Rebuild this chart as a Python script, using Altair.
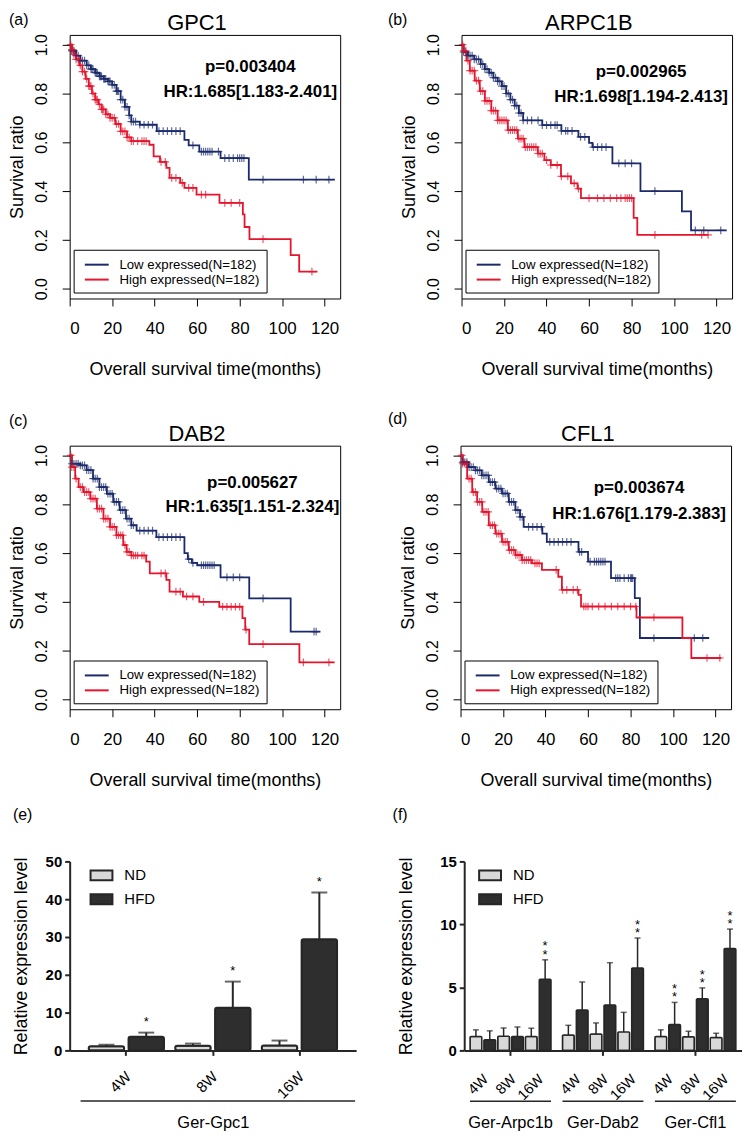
import altair as alt
import pandas as pd

FONT = "Liberation Sans"
NAVY = "#1b2a6b"
RED = "#e5152d"
DARK = "#262626"
ND_FILL = "#d9d9d9"
HFD_FILL = "#2e2e2e"
LOW = "Low expressed(N=182)"
HIGH = "High expressed(N=182)"

km_x_ticks = [0, 20, 40, 60, 80, 100, 120]
km_y_ticks = [0.0, 0.2, 0.4, 0.6, 0.8, 1.0]

# ---------------- (a) GPC1 ----------------
a_low_t = [0, 1, 3, 5, 8, 10, 12, 14, 16, 18, 20, 22, 24, 26, 28, 29, 33, 41, 54, 56, 61, 71, 84.3]
a_low_s = [1.0, 0.975, 0.955, 0.935, 0.915, 0.90, 0.885, 0.87, 0.86, 0.85, 0.835, 0.81, 0.775, 0.745,
           0.71, 0.685, 0.672, 0.646, 0.61, 0.587, 0.562, 0.535, 0.447]
a_low_end = 124.8
a_low_cens = [1, 2, 3, 4, 5, 6, 7, 8, 9, 10, 10.5, 11, 12, 12.5, 13, 14, 14.5, 15, 16, 16.5, 17, 18,
              18.5, 19, 20, 21, 22, 22.5, 23, 24, 25, 26, 27, 28, 29, 30, 31, 33, 35, 37, 39, 42, 44,
              46, 48, 50, 52, 58, 62, 63, 64, 65, 66, 67, 70, 73, 75, 77, 79, 80, 81, 82, 91, 110, 116, 122]
a_high_t = [0, 1, 2, 3, 4.5, 6, 7.5, 9, 10.5, 12, 13.5, 15, 17, 19, 21.5, 24, 27, 29, 37.5, 39.5, 42.5,
            45.5, 47, 52, 54, 59.7, 70.5, 81.5, 82.3, 84.6, 104, 108]
a_high_s = [1.0, 0.98, 0.96, 0.94, 0.915, 0.89, 0.86, 0.83, 0.80, 0.775, 0.755, 0.735, 0.715, 0.70, 0.675,
            0.645, 0.62, 0.605, 0.59, 0.542, 0.52, 0.495, 0.454, 0.434, 0.413, 0.386, 0.352, 0.305,
            0.253, 0.203, 0.138, 0.07]
a_high_end = 116.6
a_high_cens = [0.5, 1, 1.5, 2, 3, 4, 5, 6, 7, 8, 9, 9.5, 10, 11, 12, 12.5, 13, 14, 15, 15.5, 16, 17, 18,
               19, 20, 21, 22, 23, 24, 25, 26, 27, 28, 29, 30, 32, 34, 35, 36, 43, 45, 48, 50, 53, 56,
               58, 62, 64, 73, 76, 80, 91, 114]

# ---------------- (b) ARPC1B ----------------
b_low_t = [0, 1, 3, 6, 9, 11, 13, 15, 17, 19, 21, 23, 25, 27, 29, 38, 47, 55, 60, 61.6, 71, 84.2, 103.7, 108]
b_low_s = [1.0, 0.97, 0.955, 0.94, 0.92, 0.90, 0.885, 0.865, 0.85, 0.83, 0.80, 0.775, 0.75, 0.72, 0.69,
           0.67, 0.647, 0.622, 0.598, 0.58, 0.514, 0.40, 0.317, 0.239]
b_low_end = 124.8
b_low_cens = [1, 2, 3, 4, 5, 6, 7, 8, 9, 10, 11, 12, 13, 14, 15, 16, 17, 18, 19, 20, 21, 22, 23, 24, 25,
              26, 27, 28, 29, 31, 33, 36, 38, 40, 42, 44, 45, 47, 49, 50, 52, 56, 58, 62, 64, 66, 68,
              74, 77, 80, 91, 110, 114, 122]
b_high_t = [0, 1, 2.3, 3.9, 6.2, 8.6, 11, 14, 17, 21.8, 26.5, 29.6, 35.9, 39, 42, 46.8, 51.5, 54.6, 56.2,
            81, 82.7]
b_high_s = [1.0, 0.975, 0.935, 0.894, 0.853, 0.81, 0.77, 0.73, 0.69, 0.65, 0.615, 0.58, 0.554, 0.527,
            0.507, 0.46, 0.432, 0.41, 0.371, 0.29, 0.221]
b_high_end = 116.2
b_high_cens = [0.5, 1, 2, 3, 4, 5, 6, 7, 8, 9, 10, 11, 12, 13, 14, 15, 16, 17, 18, 19, 20, 21, 22, 23,
               24, 25, 26, 27, 28, 29, 30, 31, 32, 33, 34, 35, 36, 37, 38, 40, 42, 45, 47, 50, 53, 55,
               60, 64, 67, 70, 73, 75, 77, 78, 79, 80, 91, 113, 116]

# ---------------- (c) DAB2 ----------------
c_low_t = [0, 1, 5, 8, 11, 14, 17.5, 20.5, 23.5, 26.5, 29, 31.5, 40.8, 54, 55.6, 57.5, 60, 71, 84.5, 104]
c_low_s = [1.0, 0.966, 0.959, 0.94, 0.905, 0.87, 0.843, 0.81, 0.776, 0.741, 0.714, 0.692, 0.665, 0.60,
           0.575, 0.56, 0.55, 0.50, 0.414, 0.278]
c_low_end = 118
c_low_cens = [1, 2, 3, 4, 5, 6, 7, 8, 9, 10, 11, 12, 13, 14, 15, 16, 17, 18, 19, 20, 21, 22, 23, 24, 25,
              26, 27, 28, 29, 30, 33, 35, 37, 39, 42, 44, 46, 48, 50, 52, 56, 58, 62, 63, 64, 65, 66,
              67, 68, 74, 77, 80, 91, 115, 116]
c_high_t = [0, 1, 2.6, 4.2, 6.5, 9.7, 12.8, 15.9, 19, 22, 25.2, 26.8, 29, 36, 37.7, 45.5, 47, 53.3, 61,
            70.4, 81.3, 82.6, 84.5, 108.1]
c_high_s = [1.0, 0.952, 0.905, 0.87, 0.85, 0.823, 0.782, 0.741, 0.707, 0.673, 0.633, 0.605, 0.59, 0.565,
            0.517, 0.49, 0.442, 0.422, 0.40, 0.38, 0.333, 0.286, 0.227, 0.152]
c_high_end = 124.7
c_high_cens = [0.5, 1, 2, 3, 5, 6, 7, 8, 9, 10, 11, 12, 13, 14, 15, 16, 17, 18, 19, 20, 21, 22, 23, 24,
               25, 26, 27, 28, 29, 30, 31, 32, 34, 35, 43, 45, 50, 52, 55, 58, 63, 72, 74, 76, 78, 80,
               83, 91, 110, 122]

# ---------------- (d) CFL1 ----------------
d_low_t = [0, 1, 3.9, 7, 10, 13.3, 16.4, 19.5, 22.7, 25.8, 28, 29.7, 38.5, 40.6, 55.5, 60, 70.8, 82, 84.4]
d_low_s = [1.0, 0.973, 0.952, 0.939, 0.918, 0.891, 0.864, 0.844, 0.81, 0.776, 0.748, 0.707, 0.68, 0.646,
           0.605, 0.565, 0.497, 0.415, 0.252]
d_low_end = 117
d_low_cens = [1, 2, 3, 4, 5, 6, 7, 8, 9, 10, 11, 12, 13, 14, 15, 16, 17, 18, 19, 20, 21, 22, 23, 24, 25,
              26, 27, 28, 29, 32, 34, 36, 38, 42, 44, 46, 48, 50, 52, 56, 57, 61, 63, 64, 65, 66, 67,
              68, 73, 74, 75, 77, 79, 80, 80.5, 81, 91, 110, 114]
d_high_t = [0, 1, 3.1, 5.5, 7.8, 10.2, 13.3, 16.4, 19.5, 22.7, 25.8, 28.9, 33.6, 38.3, 46, 47.7, 55.5,
            56.7, 82.8, 104.4, 108.6]
d_high_s = [1.0, 0.966, 0.905, 0.85, 0.81, 0.769, 0.714, 0.68, 0.646, 0.612, 0.592, 0.571, 0.558, 0.531,
            0.503, 0.449, 0.429, 0.381, 0.336, 0.252, 0.17]
d_high_end = 122.7
d_high_cens = [0.5, 1, 2, 3, 4, 5, 6, 7, 8, 9, 10, 11, 12, 13, 14, 15, 16, 17, 18, 19, 20, 21, 22, 23,
               24, 25, 26, 27, 28, 29, 30, 31, 32, 33, 35, 36, 37, 45, 48, 50, 53, 55, 58, 59, 60, 62,
               65, 68, 71, 74, 77, 80, 82.5, 91, 116, 122]

# ---------------- (e) Ger-Gpc1 ----------------
diets = ["ND", "HFD"]
e_time = ["4W", "8W", "16W"]
e_nd_mean = [1.1, 1.2, 1.3]
e_nd_err = [1.5, 1.8, 2.6]
e_hfd_mean = [3.6, 11.3, 29.4]
e_hfd_err = [4.7, 18.2, 41.8]
e_hfd_star = ["*", "*", "*"]

# ---------------- (f) Arpc1b / Dab2 / Cfl1 ----------------
f_genes = ["Ger-Arpc1b", "Ger-Dab2", "Ger-Cfl1"]
f_time = ["4W", "8W", "16W"]
f_nd_mean = [[1.1, 1.13, 1.1], [1.23, 1.31, 1.47], [1.1, 1.08, 1.02]]
f_nd_err = [[1.63, 1.78, 1.76], [1.99, 2.18, 3.02], [1.63, 1.52, 1.36]]
f_hfd_mean = [[0.84, 1.10, 5.64], [3.20, 3.60, 6.54], [2.05, 4.09, 8.08]]
f_hfd_err = [[1.55, 1.86, 7.19], [5.43, 6.96, 8.92], [3.81, 4.96, 9.63]]
f_hfd_star = [["", "", "**"], ["", "", "**"], ["**", "**", "**"]]

PLUS = "M-1,0H1M0,-1V1"
LEG_LINE = "M-0.5,0H2.7"
SWATCH = "M-1,-0.45H1V0.45H-1Z"
KM_W, KM_H = 272, 265
BAR_H = 190


def step_at(ts, ss, t):
    val = ss[0]
    for ti, si in zip(ts, ss):
        if ti <= t:
            val = si
    return val


def km_panel(letter, letter_x, letter_y, gene, curves, p_text, hr_text, ann_t, p_s, hr_s):
    line_rows, cens_rows = [], []
    for grp, ts, ss, end, cens in curves:
        for t, s in zip(ts, ss):
            line_rows.append(dict(t=t, s=s, group=grp))
        line_rows.append(dict(t=end, s=ss[-1], group=grp))
        for c in cens:
            cens_rows.append(dict(t=c, s=step_at(ts, ss, c), group=grp))
    line_df = pd.DataFrame(line_rows)
    cens_df = pd.DataFrame(cens_rows)
    ann_df = pd.DataFrame({"t": [ann_t, ann_t], "s": [p_s, hr_s], "label": [p_text, hr_text]})

    xs = alt.Scale(domain=[0, 127.3], nice=False, zero=False)
    ys = alt.Scale(domain=[-0.04, 1.04], nice=False, zero=False)
    xax = alt.Axis(values=km_x_ticks, title="Overall survival time(months)", grid=False, domain=False,
                   tickSize=7.5, tickColor="black", labelFontSize=17, labelPadding=15,
                   titleFontSize=18, titleFontWeight="normal", titlePadding=24)
    yax = alt.Axis(values=km_y_ticks, format=".1f", title="Survival ratio", grid=False, domain=False,
                   tickSize=7.5, tickColor="black", labelAngle=270, labelAlign="center",
                   labelBaseline="bottom", labelFontSize=16, labelPadding=13,
                   titleFontSize=18, titleFontWeight="normal", titlePadding=6.5)
    X = alt.X("t:Q", scale=xs, axis=xax)
    Y = alt.Y("s:Q", scale=ys, axis=yax)
    cs = alt.Scale(domain=[LOW, HIGH], range=[NAVY, RED])

    lines = alt.Chart(line_df).mark_line(interpolate="step-after", strokeWidth=1.8).encode(
        x=X, y=Y,
        color=alt.Color("group:N", scale=cs, legend=alt.Legend(
            title=None, orient="none", legendX=4, legendY=216, direction="vertical",
            strokeColor="black", fillColor="white", padding=6.5, symbolType=LEG_LINE,
            symbolSize=225, symbolStrokeWidth=2, labelFontSize=13.3, labelOffset=22.5,
            rowPadding=0, labelLimit=300, labelColor="black")))
    cens = alt.Chart(cens_df).mark_point(shape=PLUS, filled=False, size=60, strokeWidth=1.2,
                                         opacity=0.7).encode(
        x=X, y=Y, color=alt.Color("group:N", scale=cs, legend=None))
    ann = alt.Chart(ann_df).mark_text(fontWeight="bold", fontSize=17, align="center",
                                      baseline="middle", color="black").encode(x=X, y=Y, text="label:N")
    lab = alt.Chart(pd.DataFrame({"lab": [letter]})).mark_text(
        align="left", baseline="alphabetic", fontSize=16, color="black").encode(
        x=alt.value(letter_x), y=alt.value(letter_y), text="lab:N")
    ttl = alt.Chart(pd.DataFrame({"gene": [gene]})).mark_text(
        align="center", baseline="alphabetic", fontSize=22, color="black").encode(
        x=alt.value(KM_W / 2 - 8), y=alt.value(-5), text="gene:N")
    return alt.layer(lines, cens, ann, lab, ttl).properties(
        width=KM_W, height=KM_H, view=alt.ViewBackground(stroke="black", strokeWidth=1))


def legend_bar(x):
    return alt.Legend(title=None, orient="none", legendX=x, legendY=2, symbolType=SWATCH,
                      symbolSize=484, symbolStrokeColor=DARK, symbolStrokeWidth=2, labelFontSize=15,
                      labelOffset=11, rowPadding=3, padding=0, labelColor="black")


def y_axis_bar(values, tp):
    return alt.Axis(values=values, title="Relative expression level", grid=False, domainColor=DARK,
                    domainWidth=2, tickColor=DARK, tickWidth=2, tickSize=5, labelFontSize=15,
                    labelFontWeight="bold", labelPadding=3, titleFontSize=18, titleFontWeight="normal",
                    titlePadding=tp)


# ---------- panel e ----------
e_rows = []
for i, t in enumerate(e_time):
    e_rows.append(dict(time=t, diet="ND", mean=e_nd_mean[i], err=e_nd_err[i], star=""))
    e_rows.append(dict(time=t, diet="HFD", mean=e_hfd_mean[i], err=e_hfd_err[i], star=e_hfd_star[i]))
e_df = pd.DataFrame(e_rows)

eX = alt.X("time:N", scale=alt.Scale(domain=e_time, paddingInner=0.13, paddingOuter=0.22),
           axis=alt.Axis(title="Ger-Gpc1", labelAngle=315, labelAlign="right", labelBaseline="middle",
                         labelPadding=18.5, labelOffset=2, tickSize=5, domainWidth=2, tickWidth=2,
                         domainColor=DARK, tickColor=DARK, labelFontSize=15, titleFontSize=16.5,
                         titleFontWeight="normal", titlePadding=13.5))
eXO = alt.XOffset("diet:N", scale=alt.Scale(domain=diets, paddingInner=0.11, paddingOuter=0))
eYs = alt.Scale(domain=[0, 50], nice=False)
eYax = y_axis_bar([0, 10, 20, 30, 40, 50], 14.3)
fill_scale = alt.Scale(domain=diets, range=[ND_FILL, HFD_FILL])

e_base = alt.Chart(e_df)
e_bars = e_base.mark_bar(stroke=DARK, strokeWidth=2, cornerRadius=2).encode(
    x=eX, xOffset=eXO, y=alt.Y("mean:Q", scale=eYs, axis=eYax),
    fill=alt.Fill("diet:N", scale=fill_scale, legend=legend_bar(20)))
e_err = e_base.mark_rule(color=DARK, strokeWidth=2).encode(
    x=eX, xOffset=eXO, y=alt.Y("mean:Q", scale=eYs, axis=eYax), y2="err:Q")
e_cap = e_base.mark_tick(color=DARK, thickness=2, size=16).encode(
    x=eX, xOffset=eXO, y=alt.Y("err:Q", scale=eYs, axis=eYax))
e_star = e_base.transform_filter("datum.star != ''").mark_text(
    fontSize=13, baseline="alphabetic", dy=-6.5, color="black").encode(
    x=eX, xOffset=eXO, y=alt.Y("err:Q", scale=eYs, axis=eYax), text="star:N")
e_bracket = alt.Chart(pd.DataFrame({"k": [0]})).mark_rule(color=DARK, strokeWidth=1.5).encode(
    x=alt.value(11), x2=alt.value(287), y=alt.value(241))
e_lab = alt.Chart(pd.DataFrame({"lab": ["(e)"]})).mark_text(
    align="left", baseline="alphabetic", fontSize=16, color="black").encode(
    x=alt.value(-57), y=alt.value(-42), text="lab:N")
panel_e = alt.layer(e_bars, e_err, e_cap, e_star, e_bracket, e_lab).properties(width=288, height=BAR_H)

# ---------- panel f ----------
slots = [t + "-" + d for t in f_time for d in diets]
f_rows = []
for gi, g in enumerate(f_genes):
    for ti, t in enumerate(f_time):
        f_rows.append(dict(gene=g, slot=t + "-ND", diet="ND", mean=f_nd_mean[gi][ti],
                           err=f_nd_err[gi][ti], star=""))
        f_rows.append(dict(gene=g, slot=t + "-HFD", diet="HFD", mean=f_hfd_mean[gi][ti],
                           err=f_hfd_err[gi][ti], star="\n".join(list(f_hfd_star[gi][ti]))))
f_df = pd.DataFrame(f_rows)
tl_df = pd.DataFrame([dict(gene=g, slot=t + "-HFD", time=t) for g in f_genes for t in f_time])

fX = alt.X("gene:N", scale=alt.Scale(domain=f_genes, paddingInner=0.124, paddingOuter=0.063),
           axis=alt.Axis(title=None, labelAngle=0, labelPadding=60, tickSize=5, domainWidth=2,
                         tickWidth=2, domainColor=DARK, tickColor=DARK, labelFontSize=16.5))
fXO = alt.XOffset("slot:N", scale=alt.Scale(domain=slots, paddingInner=0.15, paddingOuter=0))
fYs = alt.Scale(domain=[0, 15], nice=False)
fYax = y_axis_bar([0, 5, 10, 15], 24)

f_base = alt.Chart(f_df)
f_bars = f_base.mark_bar(stroke=DARK, strokeWidth=1.5, cornerRadius=1).encode(
    x=fX, xOffset=fXO, y=alt.Y("mean:Q", scale=fYs, axis=fYax),
    fill=alt.Fill("diet:N", scale=fill_scale, legend=legend_bar(14)))
f_err = f_base.mark_rule(color=DARK, strokeWidth=1.5).encode(
    x=fX, xOffset=fXO, y=alt.Y("mean:Q", scale=fYs, axis=fYax), y2="err:Q")
f_cap = f_base.mark_tick(color=DARK, thickness=1.5, size=6).encode(
    x=fX, xOffset=fXO, y=alt.Y("err:Q", scale=fYs, axis=fYax))
f_star = f_base.transform_filter("datum.star != ''").mark_text(
    fontSize=13, baseline="alphabetic", dy=-9.4, lineBreak="\n", lineHeight=8.4, color="black").encode(
    x=fX, xOffset=fXO, y=alt.Y("err:Q", scale=fYs, axis=fYax), text="star:N")
f_tl = alt.Chart(tl_df).mark_text(angle=315, align="right", baseline="middle", fontSize=14.5, dx=-5,
                                  color="black").encode(
    x=fX, xOffset=fXO, y=alt.value(BAR_H + 23.5), text="time:N")
f_bracket = alt.Chart(pd.DataFrame({"gene": f_genes})).mark_rect(color=DARK).encode(
    x=fX, y=alt.value(240.5), y2=alt.value(242))
f_lab = alt.Chart(pd.DataFrame({"lab": ["(f)"]})).mark_text(
    align="left", baseline="alphabetic", fontSize=16, color="black").encode(
    x=alt.value(-72), y=alt.value(-42), text="lab:N")
panel_f = alt.layer(f_bars, f_err, f_cap, f_star, f_tl, f_bracket, f_lab).properties(width=279, height=BAR_H)

# ---------- KM panels ----------
pa = km_panel("(a)", -61, -10, "GPC1",
              [(LOW, a_low_t, a_low_s, a_low_end, a_low_cens), (HIGH, a_high_t, a_high_s, a_high_end, a_high_cens)],
              "p=0.003404", "HR:1.685[1.183-2.401]", 85, 0.908, 0.806)
pb = km_panel("(b)", -74, -10, "ARPC1B",
              [(LOW, b_low_t, b_low_s, b_low_end, b_low_cens), (HIGH, b_high_t, b_high_s, b_high_end, b_high_cens)],
              "p=0.002965", "HR:1.698[1.194-2.413]", 84.5, 0.888, 0.786)
pc = km_panel("(c)", -61, -20, "DAB2",
              [(LOW, c_low_t, c_low_s, c_low_end, c_low_cens), (HIGH, c_high_t, c_high_s, c_high_end, c_high_cens)],
              "p=0.005627", "HR:1.635[1.151-2.324]", 86, 0.886, 0.787)
pd_ = km_panel("(d)", -73, -22, "CFL1",
               [(LOW, d_low_t, d_low_s, d_low_end, d_low_cens), (HIGH, d_high_t, d_high_s, d_high_end, d_high_cens)],
               "p=0.003674", "HR:1.676[1.179-2.383]", 84, 0.867, 0.762)

row1 = alt.hconcat(pa, pb, spacing=46).resolve_scale(color="independent").resolve_legend(color="independent")
row2 = alt.hconcat(pc, pd_, spacing=46).resolve_scale(color="independent").resolve_legend(color="independent")
row3 = alt.hconcat(panel_e, panel_f, spacing=36.7).resolve_scale(
    fill="independent", xOffset="independent").resolve_legend(fill="independent")
top = alt.vconcat(row1, row2, spacing=31).resolve_scale(color="independent").resolve_legend(color="independent")
chart = alt.vconcat(top, row3, spacing=17).resolve_scale(
    color="independent", fill="independent", xOffset="independent").resolve_legend(
    color="independent", fill="independent").properties(padding=0).configure(
    font=FONT).configure_view(stroke=None).configure_axis(
    labelFont=FONT, titleFont=FONT, labelColor="black", titleColor="black").configure_legend(
    labelFont=FONT).configure_title(font=FONT).configure_text(font=FONT)

chart.save("out.html", embed_options={"renderer": "svg", "actions": False})
